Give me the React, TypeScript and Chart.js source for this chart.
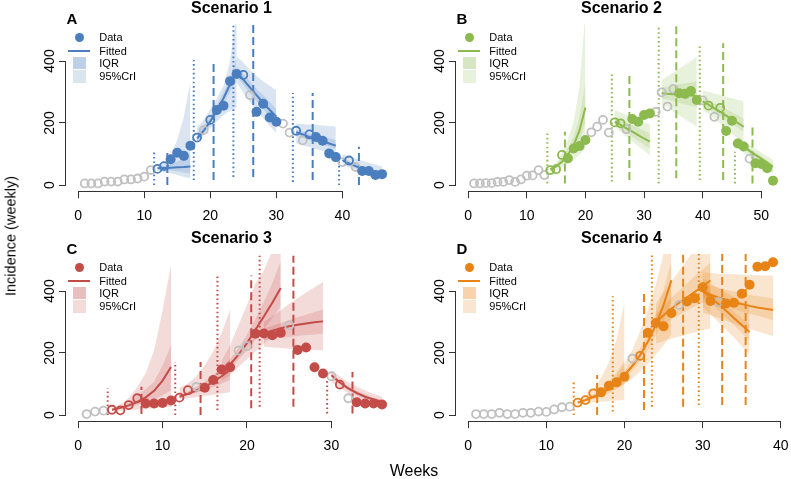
import React, { useEffect, useRef } from "react";
import { Chart, registerables } from "chart.js";

Chart.register(...registerables);

const FONT = '"Liberation Sans", Arial, Helvetica, sans-serif';
const AXIS = "#333";
const Y_TICKS = [0, 200, 400];

// ---------------- Scenario 1 (A) ----------------
const weeksA = [1,2,3,4,5,6,7,8,9,10,11,12,13,14,15,16,17,18,19,20,21,22,23,24,25,26,27,28,29,30,31,32,33,34,35,36,37,38,39,40,41,42,43,44,45,46];
const incA = [5,5,5,11,11,11,18,18,21,27,48,52,61,83,104,94,127,153,177,210,242,256,335,358,355,290,236,262,218,204,198,169,175,144,163,155,143,102,90,74,79,58,45,45,32,35];
const kindA = "gggggggggggooffffogoffffogffffggogoffffgogffff";
const winStartA = [12, 18, 24, 33, 40];
const fitA = [[54,55,56,57,58,60],[150,175,205,240,280,325,368],[365,340,315,290,265,242,220],[170,163,155,148,141,134,127],[80,70,61,53,46,39,33]];
const hi95A = [[62,72,97,145,220,333],[185,210,245,280,320,400,560],[415,395,372,352,335,320,306],[198,197,195,194,192,190,188],[100,92,85,78,72,66,60]];
const lo95A = [[45,42,38,32,26,21],[140,160,182,205,225,240,250],[330,298,268,240,215,190,168],[134,128,122,116,110,103,96],[68,57,47,38,31,24,18]];
const hiIqrA = [[57,62,68,76,86,97],[165,190,222,258,298,348,410],[382,360,335,310,290,268,245],[178,172,166,161,155,150,145],[86,77,68,60,53,46,40]];
const loIqrA = [[51,49,47,44,40,36],[142,165,193,225,262,302,335],[350,323,296,270,245,222,200],[159,152,145,138,131,123,115],[74,64,55,47,40,33,27]];
const dotXA = [11.5, 17.5, 23.5, 32.5, 39.5];
const dotLoA = [0, 16, 26, 10, 0];
const dotHiA = [107, 403, 520, 297, 100];
const dashXA = [13.5, 20.5, 26.5, 35.5, 42.5];
const dashLoA = [0, 16, 26, 16, 0];
const dashHiA = [116, 403, 520, 297, 123];
const xTicksA = [0, 10, 20, 30, 40];

// ---------------- Scenario 2 (B) ----------------
const weeksB = [1,2,3,4,5,6,7,8,9,10,11,12,13,14,15,16,17,18,19,20,21,22,23,24,25,26,27,28,29,30,31,32,33,34,35,36,37,38,39,40,41,42,43,44,45,46,47,48,49,50,51,52];
const incB = [5,5,6,6,10,10,16,10,18,30,31,48,32,48,51,97,86,118,126,145,170,188,210,169,202,199,180,213,204,226,231,236,299,253,310,296,294,303,274,273,256,220,249,174,207,134,124,85,70,68,54,14];
const kindB = "gggggggggggggoooffffggggoogffffggggffffgogoffffgffff";
const winStartB = [14, 25, 33, 40, 46];
const fitB = [[50,60,75,97,129,177,250],[204,194,183,172,161,150,140],[296,294,293,292,290,289,287],[270,259,247,236,224,212,200,188],[140,124,110,97,85,72,59]];
const hi95B = [[55,72,103,145,205,320,560],[242,234,226,218,210,202,194],[339,350,362,375,388,400,414],[305,300,295,290,285,280,275,270],[156,142,129,117,105,93,81]];
const lo95B = [[42,50,58,68,80,98,118],[188,172,156,140,125,111,97],[263,250,237,225,212,200,188],[242,228,213,198,182,166,150,134],[118,104,90,76,63,50,38]];
const hiIqrB = [[52,65,87,119,156,220,333],[220,211,202,193,184,175,167],[315,318,321,325,328,331,335],[283,274,264,255,245,235,225,215],[147,132,118,105,93,80,67]];
const loIqrB = [[46,55,68,87,107,145,199],[194,181,168,155,142,130,118],[280,275,270,265,260,256,252],[256,245,233,221,209,197,185,172],[132,117,102,89,77,64,51]];
const dotXB = [13.5, 24.5, 32.5, 39.5, 45.5];
const dotLoB = [5, 11, 5, 16, 5];
const dotHiB = [172, 362, 516, 448, 107];
const dashXB = [16.5, 27.5, 35.5, 43.5, 48.5];
const dashLoB = [5, 16, 22, 16, 5];
const dashHiB = [172, 352, 513, 457, 190];
const xTicksB = [0, 10, 20, 30, 40, 50];

// ---------------- Scenario 3 (C) ----------------
const weeksC = [1,2,3,4,5,6,7,8,9,10,11,12,13,14,15,16,17,18,19,20,21,22,23,24,25,26,27,28,29,30,31,32,33,34,35,36];
const incC = [3,11,14,17,15,32,54,37,37,39,47,56,80,91,88,113,147,154,208,222,262,263,257,265,289,210,218,154,134,125,98,54,41,37,37,34];
const kindC = "gggooooffffoogffffggffffgffffgogffff";
const winStartC = [4, 12, 17, 22, 30];
const fitC = [[17,23,31,42,57,78,111,155],[59,68,79,91,107,125,145],[139,163,195,232,275,318,362,410],[263,272,280,286,291,295,299,302],[128,105,86,71,59,50,43]];
const hi95C = [[22,34,55,90,135,209,338,485],[88,102,125,160,205,265,340],[175,225,290,355,424,466,530,620],[300,318,338,358,377,395,412,429],[145,124,106,92,79,68,59]];
const lo95C = [[12,14,16,18,20,22,25,27],[50,54,57,61,65,69,73],[110,130,155,180,205,230,255,280],[220,218,216,214,213,211,210,209],[107,87,70,56,44,35,27]];
const hiIqrC = [[19,27,40,62,84,107,160,225],[65,77,91,108,129,153,180],[150,180,215,260,310,365,425,495],[279,288,297,306,315,323,332,340],[135,112,93,78,66,56,49]];
const loIqrC = [[15,19,25,32,40,50,64,80],[55,63,71,80,90,101,114],[128,150,178,208,243,278,312,350],[243,246,249,252,255,258,260,263],[120,98,79,64,52,44,37]];
const dotXC = [3.5, 11.5, 16.5, 21.5, 29.5];
const dotLoC = [0, 0, 16, 27, 5];
const dotHiC = [87, 171, 450, 514, 118];
const dashXC = [7.5, 14.5, 20.5, 25.5, 32.5];
const dashLoC = [3, 0, 22, 27, 5];
const dashHiC = [91, 171, 450, 514, 139];
const xTicksC = [0, 10, 20, 30];

// ---------------- Scenario 4 (D) ----------------
const weeksD = [1,2,3,4,5,6,7,8,9,10,11,12,13,14,15,16,17,18,19,20,21,22,23,24,25,26,27,28,29,30,31,32,33,34,35,36,37,38,39];
const incD = [3,3,3,7,3,3,7,7,11,10,18,25,27,40,48,70,73,94,106,123,182,191,265,297,286,329,355,366,377,412,368,364,360,362,391,420,478,480,493];
const kindD = "gggggggggggggoooffffgoffffgffffgfffffff";
const winStartD = [14, 19, 24, 30, 30];
const fitD = [[40,48,58,70,84,101,123],[105,129,158,193,237,290,355,435],[300,322,343,362,380,397,416,434],[400,380,358,336,313,290,268],[400,388,379,371,364,358,352,347,343,339]];
const hi95D = [[48,62,85,120,170,245,364],[130,165,210,270,340,420,520,640],[360,395,430,465,500,535,570,610],[440,425,410,395,380,362,345],[460,458,456,455,454,453,452,451,450,450]];
const lo95D = [[33,36,40,43,45,47,48],[85,100,118,140,165,195,225,260],[230,238,246,253,260,267,273,280],[350,325,300,275,250,222,195],[330,322,313,304,295,286,278,270,262,254]];
const hiIqrD = [[43,53,67,85,108,138,177],[115,142,175,215,265,330,405,495],[325,352,378,402,425,448,470,492],[415,395,375,355,335,312,290],[425,418,411,404,398,393,388,384,380,377]];
const loIqrD = [[37,44,51,60,70,84,102],[97,117,142,172,210,255,305,365],[275,292,308,323,337,350,362,375],[385,362,338,314,290,265,240],[375,366,357,349,341,334,327,320,313,306]];
const dotXD = [13.5, 18.5, 23.5, 29.5];
const dotLoD = [0, 11, 27, 32];
const dotHiD = [107, 383, 520, 520];
const dashXD = [16.5, 22.5, 27.5, 32.5, 35.5];
const dashLoD = [0, 16, 27, 32, 32];
const dashHiD = [129, 393, 520, 520, 520];
const xTicksD = [0, 10, 20, 30, 40];

const titles = ["Scenario 1", "Scenario 2", "Scenario 3", "Scenario 4"];
const letters = ["A", "B", "C", "D"];
const legendLabels = ["Data", "Fitted", "IQR", "95%CrI"];

type Panel = {
  rgb: string; weeks: number[]; inc: number[]; kind: string;
  winStart: number[]; fit: number[][]; hi95: number[][]; lo95: number[][]; hiIqr: number[][]; loIqr: number[][];
  dotX: number[]; dotLo: number[]; dotHi: number[]; dashX: number[]; dashLo: number[]; dashHi: number[];
  xTicks: number[];
};

const PANELS: Panel[] = [
  { rgb: "74,126,191", weeks: weeksA, inc: incA, kind: kindA, winStart: winStartA, fit: fitA, hi95: hi95A, lo95: lo95A, hiIqr: hiIqrA, loIqr: loIqrA, dotX: dotXA, dotLo: dotLoA, dotHi: dotHiA, dashX: dashXA, dashLo: dashLoA, dashHi: dashHiA, xTicks: xTicksA },
  { rgb: "141,186,79", weeks: weeksB, inc: incB, kind: kindB, winStart: winStartB, fit: fitB, hi95: hi95B, lo95: lo95B, hiIqr: hiIqrB, loIqr: loIqrB, dotX: dotXB, dotLo: dotLoB, dotHi: dotHiB, dashX: dashXB, dashLo: dashLoB, dashHi: dashHiB, xTicks: xTicksB },
  { rgb: "196,76,72", weeks: weeksC, inc: incC, kind: kindC, winStart: winStartC, fit: fitC, hi95: hi95C, lo95: lo95C, hiIqr: hiIqrC, loIqr: loIqrC, dotX: dotXC, dotLo: dotLoC, dotHi: dotHiC, dashX: dashXC, dashLo: dashLoC, dashHi: dashHiC, xTicks: xTicksC },
  { rgb: "232,131,22", weeks: weeksD, inc: incD, kind: kindD, winStart: winStartD, fit: fitD, hi95: hi95D, lo95: lo95D, hiIqr: hiIqrD, loIqr: loIqrD, dotX: dotXD, dotLo: dotLoD, dotHi: dotHiD, dashX: dashXD, dashLo: dashLoD, dashHi: dashHiD, xTicks: xTicksD },
];

// layout (positions only)
const PLOT_TOP = 23.8;
const PLOT_BOTTOM = 191.2;
type Geom = { left: number; top: number; w: number; h: number; axisW: number; padR: number };
const GEOM: Geom[] = [
  { left: 0, top: 0, w: 400, h: 230, axisW: 66, padR: 3 },
  { left: 400, top: 0, w: 391, h: 230, axisW: 56, padR: 4 },
  { left: 0, top: 230, w: 400, h: 249, axisW: 66, padR: 3 },
  { left: 400, top: 230, w: 391, h: 249, axisW: 56, padR: 4 },
];

const rAxisPlugin = {
  id: "rAxis",
  afterDraw(chart: any) {
    const { ctx, chartArea } = chart;
    const xs = chart.scales.x;
    const ys = chart.scales.y;
    ctx.save();
    ctx.strokeStyle = AXIS;
    ctx.lineWidth = 1;
    const xt = xs.ticks;
    const yb = Math.round(chartArea.bottom) + 0.5;
    ctx.beginPath();
    ctx.moveTo(xs.getPixelForValue(xt[0].value), yb);
    ctx.lineTo(xs.getPixelForValue(xt[xt.length - 1].value), yb);
    ctx.stroke();
    const yt = ys.ticks;
    const xl = Math.round(chartArea.left) - 0.5;
    ctx.beginPath();
    ctx.moveTo(xl, ys.getPixelForValue(yt[0].value));
    ctx.lineTo(xl, ys.getPixelForValue(yt[yt.length - 1].value));
    ctx.stroke();
    ctx.restore();
  },
};

function buildDatasets(p: Panel) {
  const ds: any[] = [];
  const col = (a: number) => `rgba(${p.rgb},${a})`;
  const pts = (k: string) =>
    p.weeks.map((w, i) => ({ x: w, y: p.inc[i] })).filter((_, i) => p.kind[i] === k);
  const clear = "rgba(0,0,0,0)";
  ds.push({ data: pts("f"), showLine: false, pointRadius: 5, pointBackgroundColor: col(1), pointBorderColor: col(1), pointBorderWidth: 0, order: 1 });
  ds.push({ data: pts("o"), showLine: false, pointRadius: 4, pointBackgroundColor: clear, pointBorderColor: col(1), pointBorderWidth: 1.8, order: 2 });
  ds.push({ data: pts("g"), showLine: false, pointRadius: 4, pointBackgroundColor: clear, pointBorderColor: "rgb(192,192,192)", pointBorderWidth: 1.8, order: 3 });
  p.dotX.forEach((x, i) =>
    ds.push({ data: [{ x, y: p.dotLo[i] }, { x, y: p.dotHi[i] }], borderColor: col(1), borderWidth: 2, borderDash: [1.6, 2.8], pointRadius: 0, order: 4 })
  );
  p.dashX.forEach((x, i) =>
    ds.push({ data: [{ x, y: p.dashLo[i] }, { x, y: p.dashHi[i] }], borderColor: col(1), borderWidth: 2, borderDash: [8, 4], pointRadius: 0, order: 4 })
  );
  p.winStart.forEach((s, wi) => {
    const series = (arr: number[]) => arr.map((v, j) => ({ x: s + j, y: v }));
    ds.push({ data: series(p.fit[wi]), borderColor: col(1), borderWidth: 2, pointRadius: 0, order: 5 });
    ds.push({ data: series(p.hiIqr[wi]), borderColor: clear, borderWidth: 0, pointRadius: 0, fill: "+1", backgroundColor: col(0.2), order: 6 });
    ds.push({ data: series(p.loIqr[wi]), borderColor: clear, borderWidth: 0, pointRadius: 0, fill: false, order: 6 });
    ds.push({ data: series(p.hi95[wi]), borderColor: clear, borderWidth: 0, pointRadius: 0, fill: "+1", backgroundColor: col(0.2), order: 7 });
    ds.push({ data: series(p.lo95[wi]), borderColor: clear, borderWidth: 0, pointRadius: 0, fill: false, order: 7 });
  });
  return ds;
}

function makeConfig(p: Panel, g: Geom): any {
  const xMaxData = p.weeks[p.weeks.length - 1];
  const grid = { drawOnChartArea: false, drawTicks: true, tickLength: 7, color: AXIS, lineWidth: 1 };
  return {
    type: "line",
    data: { datasets: buildDatasets(p) },
    options: {
      responsive: false,
      animation: false,
      devicePixelRatio: 1,
      events: [],
      layout: { padding: { left: 0, right: g.padR, top: PLOT_TOP, bottom: 0 } },
      plugins: { legend: { display: false }, tooltip: { enabled: false }, title: { display: false } },
      scales: {
        x: {
          type: "linear",
          min: -0.04 * xMaxData,
          max: 1.04 * xMaxData,
          afterBuildTicks: (s: any) => { s.ticks = p.xTicks.map((v) => ({ value: v })); },
          afterFit: (s: any) => { s.height = g.h - PLOT_BOTTOM; s.paddingLeft = 0; s.paddingRight = 0; },
          grid,
          border: { display: false },
          ticks: { autoSkip: false, maxRotation: 0, minRotation: 0, padding: 10, color: "#000", font: { family: FONT, size: 14 } },
        },
        y: {
          type: "linear",
          min: -20,
          max: 520,
          afterBuildTicks: (s: any) => { s.ticks = Y_TICKS.map((v) => ({ value: v })); },
          afterFit: (s: any) => { s.width = g.axisW; s.paddingTop = 0; s.paddingBottom = 0; },
          grid,
          border: { display: false },
          ticks: { autoSkip: false, minRotation: 90, maxRotation: 90, crossAlign: "center", padding: -3, color: "#000", font: { family: FONT, size: 14 } },
        },
      },
    },
    plugins: [rAxisPlugin],
  };
}

function PanelChart({ p, g }: { p: Panel; g: Geom }) {
  const ref = useRef<HTMLCanvasElement>(null);
  useEffect(() => {
    const chart = new Chart(ref.current as HTMLCanvasElement, makeConfig(p, g));
    return () => chart.destroy();
  }, []);
  return (
    <canvas
      ref={ref}
      width={g.w}
      height={g.h}
      style={{ position: "absolute", left: g.left, top: g.top, width: g.w, height: g.h }}
    />
  );
}

function Txt({ x, base, size, bold, center, children }: any) {
  return (
    <div
      style={{
        position: "absolute",
        left: x,
        top: base - size * 0.8465,
        fontSize: size,
        lineHeight: size + "px",
        fontWeight: bold ? "bold" : "normal",
        whiteSpace: "nowrap",
        transform: center ? "translateX(-50%)" : undefined,
        color: "#000",
      }}
    >
      {children}
    </div>
  );
}

function PanelDecor({ p, g, i }: { p: Panel; g: Geom; i: number }) {
  const L = g.left + g.axisW;
  const T = g.top;
  const c = (a: number) => `rgba(${p.rgb},${a})`;
  return (
    <>
      <Txt x={L + 165.5} base={T + 14} size={16} bold center>{titles[i]}</Txt>
      <Txt x={L + 0.6} base={T + 24} size={15} bold>{letters[i]}</Txt>
      <div style={{ position: "absolute", left: L + 13.3 - 4.8, top: T + 37.3 - 4.8, width: 9.6, height: 9.6, borderRadius: "50%", background: c(1) }} />
      <div style={{ position: "absolute", left: L + 2.3, top: T + 49.7, width: 21.7, height: 2, background: c(1) }} />
      <div style={{ position: "absolute", left: L + 6.7, top: T + 56.7, width: 13, height: 12.6, background: c(0.36) }} />
      <div style={{ position: "absolute", left: L + 6.7, top: T + 70, width: 13, height: 12.6, background: c(0.2) }} />
      <Txt x={L + 33.3} base={T + 41.5} size={11}>{legendLabels[0]}</Txt>
      <Txt x={L + 33.3} base={T + 55} size={11}>{legendLabels[1]}</Txt>
      <Txt x={L + 33.3} base={T + 67.7} size={11}>{legendLabels[2]}</Txt>
      <Txt x={L + 33.3} base={T + 80.8} size={11}>{legendLabels[3]}</Txt>
    </>
  );
}

export default function App() {
  return (
    <div
      style={{
        position: "absolute",
        left: 0,
        top: 0,
        width: 791,
        height: 479,
        background: "#fff",
        overflow: "hidden",
        fontFamily: FONT,
      }}
    >
      {PANELS.map((p, i) => (
        <PanelChart key={"c" + i} p={p} g={GEOM[i]} />
      ))}
      {PANELS.map((p, i) => (
        <PanelDecor key={"d" + i} p={p} g={GEOM[i]} i={i} />
      ))}
      <div
        style={{
          position: "absolute",
          left: 11,
          top: 236,
          fontSize: 14.5,
          lineHeight: "15px",
          whiteSpace: "nowrap",
          transform: "translate(-50%,-50%) rotate(-90deg)",
        }}
      >
        Incidence (weekly)
      </div>
      <Txt x={414} base={477} size={16} center>Weeks</Txt>
    </div>
  );
}
